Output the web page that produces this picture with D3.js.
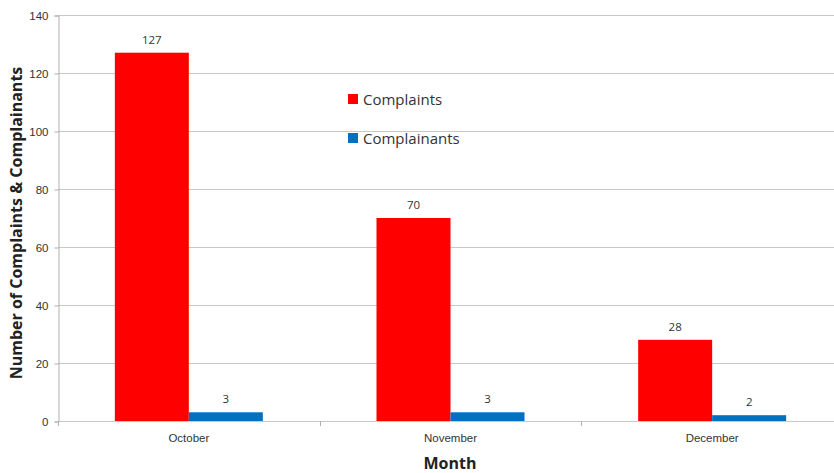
<!DOCTYPE html>
<html>
<head>
<meta charset="utf-8">
<script src="https://cdn.jsdelivr.net/npm/d3@7"></script>
<style>
  body { margin: 0; background: #fff; }
  svg { display: block; font-family: "Open Sans", sans-serif; }
  .grid line { stroke: #c8c8c8; }
  .tick text { fill: #333; font-size: 11.5px; }
</style>
</head>
<body>
<svg id="chart" width="834" height="473"></svg>
<script>
var months = ['October', 'November', 'December'];
var complaints = [127, 70, 28];
var complainants = [3, 3, 2];
var seriesNames = ['Complaints', 'Complainants'];
var seriesColors = ['#ff0000', '#0070c0'];
var yTicks = [0, 20, 40, 60, 80, 100, 120, 140];

var svg = d3.select('#chart');
var plotLeft = 58, plotRight = 843, plotTop = 15, plotBottom = 421;

var x = d3.scaleBand().domain(months).range([plotLeft, plotRight]);
var y = d3.scaleLinear().domain([0, 140]).range([plotBottom, plotTop]);
var barW = 74;

// gridlines
svg.append('g').attr('class', 'grid')
  .selectAll('line').data(yTicks).enter().append('line')
  .attr('x1', plotLeft).attr('x2', plotRight)
  .attr('y1', function (d) { return y(d) + 0.5; })
  .attr('y2', function (d) { return y(d) + 0.5; });

// y axis
var yAxis = svg.append('g').attr('transform', 'translate(' + (plotLeft + 0.5) + ',0.5)')
  .call(d3.axisLeft(y).tickValues(yTicks).tickSize(4).tickPadding(6));
yAxis.select('.domain').attr('stroke', '#b0b0b0');
yAxis.selectAll('.tick line').attr('stroke', '#b0b0b0');

// x axis category labels + separators
var xAxis = svg.append('g').attr('transform', 'translate(0,' + (plotBottom + 0.5) + ')')
  .call(d3.axisBottom(x).tickSize(0).tickPadding(12));
xAxis.select('.domain').remove();
svg.append('g').selectAll('line').data(months).enter().append('line')
  .attr('x1', function (d) { return Math.round(x(d)) + 0.5; })
  .attr('x2', function (d) { return Math.round(x(d)) + 0.5; })
  .attr('y1', plotBottom).attr('y2', plotBottom + 5)
  .attr('stroke', '#b0b0b0');

var series = [complaints, complainants];
series.forEach(function (vals, si) {
  var g = svg.append('g');
  var bx = function (d, i) {
    var c = x(months[i]) + x.bandwidth() / 2;
    return si === 0 ? c - barW : c;
  };
  g.selectAll('rect').data(vals).enter().append('rect')
    .attr('x', bx)
    .attr('width', barW)
    .attr('y', function (d) { return y(d); })
    .attr('height', function (d) { return plotBottom - y(d); })
    .attr('fill', seriesColors[si]);
  g.selectAll('text').data(vals).enter().append('text')
    .attr('x', function (d, i) { return bx(d, i) + barW / 2; })
    .attr('y', function (d) { return y(d) - 9; })
    .attr('text-anchor', 'middle')
    .attr('font-size', 11.5).attr('fill', '#333')
    .text(function (d) { return d; });
});

// legend
var legend = svg.append('g').attr('transform', 'translate(348,94)');
seriesNames.forEach(function (name, i) {
  var row = legend.append('g').attr('transform', 'translate(0,' + (i * 39) + ')');
  row.append('rect').attr('width', 10).attr('height', 10).attr('fill', seriesColors[i]);
  row.append('text').attr('x', 15).attr('y', 10.5)
    .attr('font-size', 15).attr('fill', '#333').text(name);
});

// axis titles
svg.append('text')
  .attr('transform', 'translate(22,' + ((plotTop + plotBottom) / 2 + 5) + ') rotate(-90)')
  .attr('text-anchor', 'middle')
  .attr('font-size', 16).attr('font-weight', 'bold').attr('fill', '#222')
  .text('Number of Complaints & Complainants');
svg.append('text')
  .attr('x', 450).attr('y', 469)
  .attr('text-anchor', 'middle')
  .attr('font-size', 16).attr('font-weight', 'bold').attr('fill', '#222')
  .text('Month');
</script>
</body>
</html>
